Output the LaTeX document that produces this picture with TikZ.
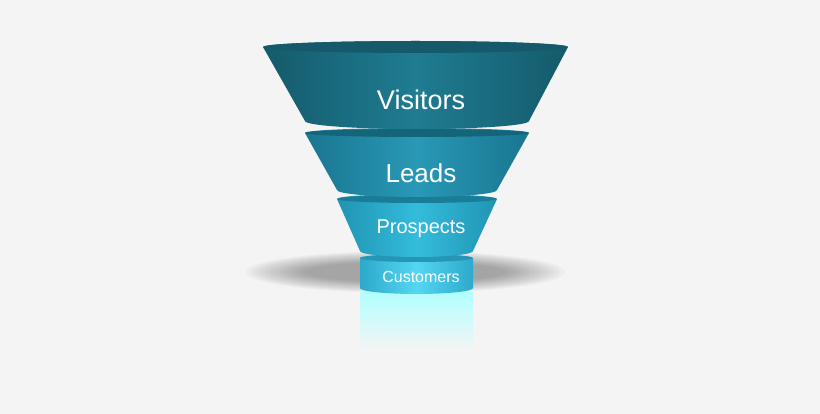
\documentclass[tikz,border=0pt]{standalone}
\usepackage{fontspec}
\setmainfont{Liberation Sans}
\definecolor{vE}{HTML}{145A6B}\definecolor{vM}{HTML}{1F7C91}\definecolor{vT}{HTML}{16596A}
\definecolor{lE}{HTML}{1A7590}\definecolor{lM}{HTML}{2899B6}\definecolor{lT}{HTML}{14647A}
\definecolor{pE}{HTML}{2094B2}\definecolor{pM}{HTML}{34BCDC}\definecolor{pT}{HTML}{1A7D97}
\definecolor{cE}{HTML}{2CA9CB}\definecolor{cM}{HTML}{55D6F2}\definecolor{cT}{HTML}{2596B5}
\definecolor{bg}{HTML}{F4F4F4}
\begin{document}
\begin{tikzpicture}[x=1pt,y=1pt,
  lbl/.style={text=white}]
\useasboundingbox (0,0) rectangle (820,-414);
\fill[bg] (0,0) rectangle (820,-414);
% soft shadow
\foreach \i in {0,...,12}{
  \fill[black, opacity=0.028] (405,-272) ellipse [x radius={160-5*\i}, y radius={21-0.9*\i}];
}
% reflection
\shade[top color=cyan!30!white, bottom color=bg] (360,-293) rectangle (473,-350);
% customers cylinder
\shade[left color=cE, right color=cE, middle color=cM]
  (360,-258) -- (360,-288) arc[start angle=180,end angle=360,x radius=56.5,y radius=6] -- (473,-258) -- cycle;
\fill[cT] (416.5,-258) ellipse [x radius=56.5, y radius=4];
% prospects
\shade[left color=pE, right color=pE, middle color=pM]
  (337,-199) -- (360,-251) arc[start angle=180,end angle=360,x radius=56.5,y radius=6] -- (497,-199) arc[start angle=0,end angle=180,x radius=80,y radius=5] -- cycle;
\fill[pT] (417,-199) ellipse [x radius=80, y radius=4];
% leads
\shade[left color=lE, right color=lE, middle color=lM]
  (305,-133) -- (337,-190) arc[start angle=180,end angle=360,x radius=80,y radius=7] -- (529,-133) arc[start angle=0,end angle=180,x radius=112,y radius=5] -- cycle;
\fill[lT] (417,-133) ellipse [x radius=112, y radius=4];
% visitors
\shade[left color=vE, right color=vE, middle color=vM]
  (263,-47) -- (305,-121) arc[start angle=180,end angle=360,x radius=112,y radius=8] -- (568,-47) arc[start angle=0,end angle=180,x radius=152.5,y radius=6] -- cycle;
\fill[vT] (415.5,-47) ellipse [x radius=152.5, y radius=6];
\node[lbl,font=\fontsize{27}{27}\selectfont] (v) at (421,-100) {Visitors};
\node[lbl,font=\fontsize{26}{26}\selectfont] (l) at (421,-173) {Leads};
\node[lbl,font=\fontsize{20}{20}\selectfont] (p) at (421,-229) {Prospects};
\node[lbl,font=\fontsize{16}{16}\selectfont] (c) at (421,-277) {Customers};
\end{tikzpicture}
\end{document}
